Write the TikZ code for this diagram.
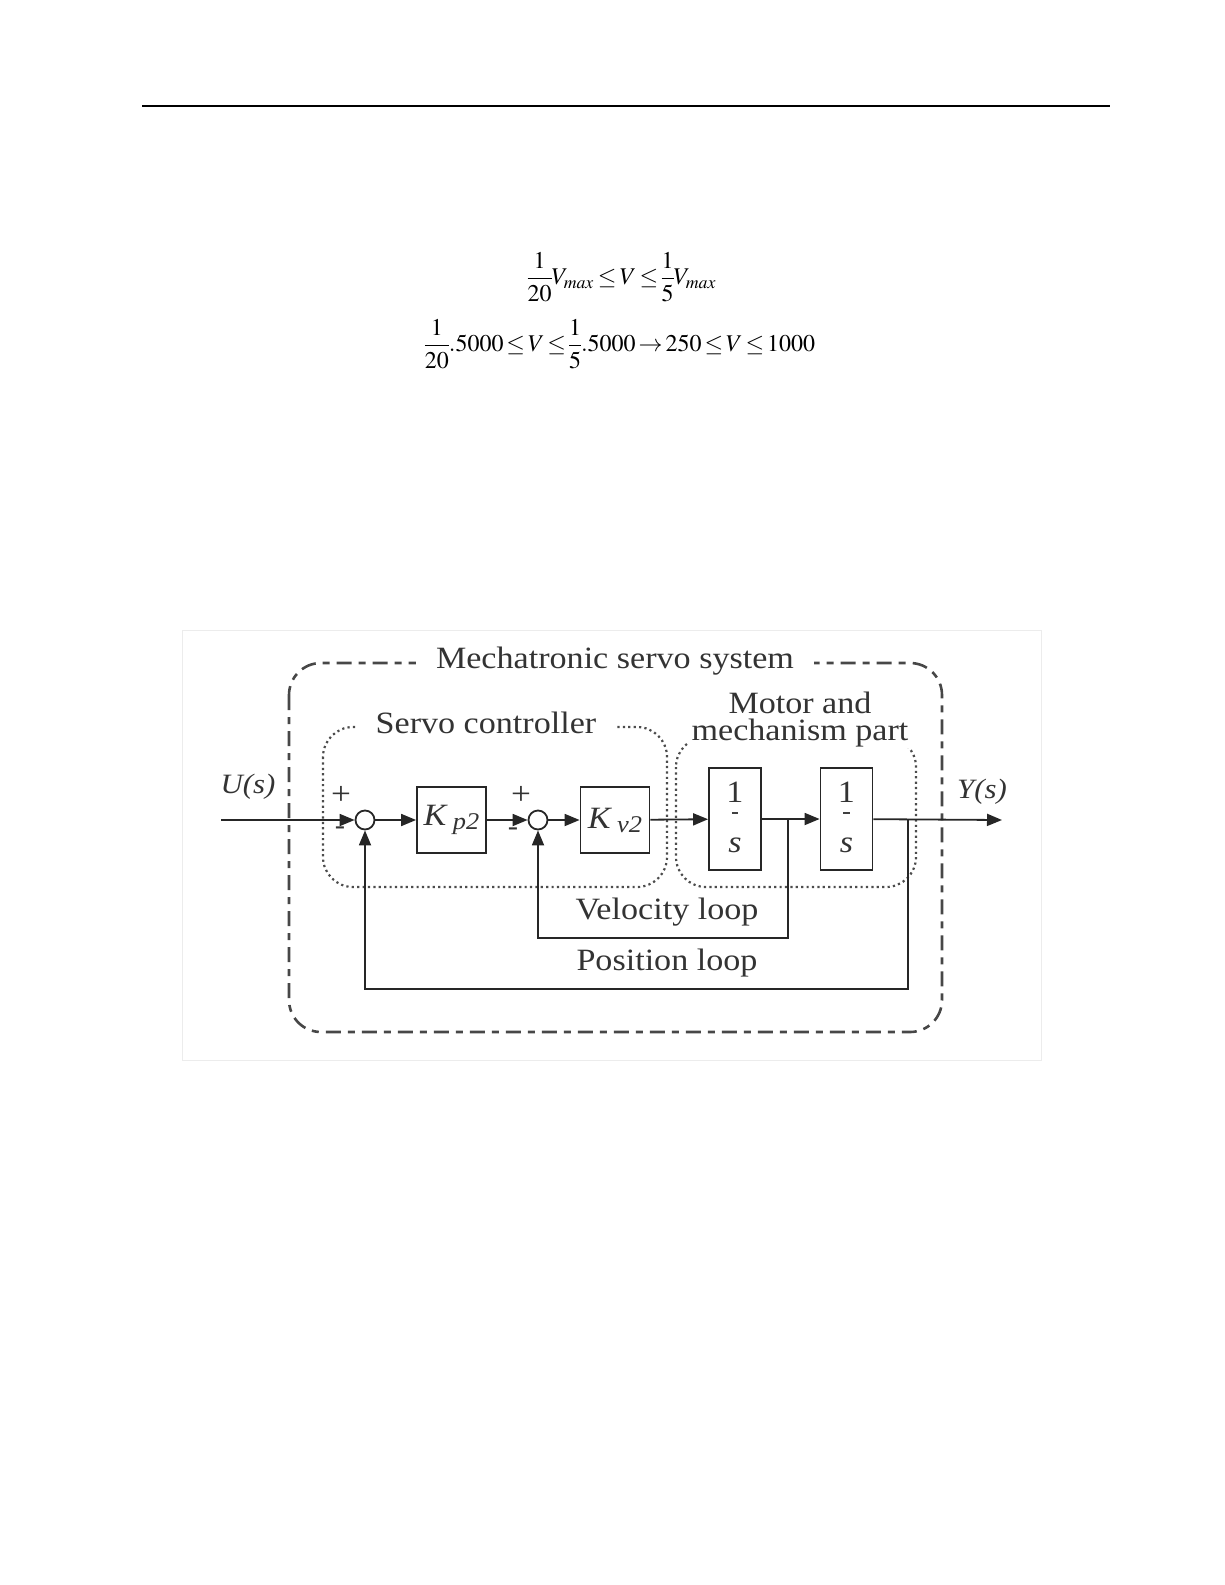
\documentclass[tikz,border=0pt]{standalone}
\usepackage{amsmath}
\usepackage{mathptmx}
\usepackage{fontspec}
\setmainfont{Liberation Serif}
\newfontfamily\diagfont[FakeStretch=1.1]{Liberation Serif}
\usetikzlibrary{arrows.meta, calc}

\begin{document}
\begin{tikzpicture}[x=0.5bp, y=-0.5bp,
    wire/.style={line width=0.9bp, black!85},
    sig/.style={wire, -{Triangle[length=7.5bp, width=6bp]}},
    blk/.style={draw=black!85, line width=0.9bp, minimum width=34.5bp,
      minimum height=33bp, inner sep=0pt, text=black!80,
      font=\diagfont\fontsize{15.5bp}{17bp}\selectfont},
    intblk/.style={blk, minimum width=26bp, minimum height=51bp},
    sumnode/.style={draw=black!85, circle, line width=0.9bp,
      minimum size=9.5bp, inner sep=0pt},
    dotbox/.style={line width=1.1bp, black!70, dash pattern=on 1.1bp off 1.6bp,
      rounded corners=15bp},
    dashbox/.style={line width=1.3bp, black!72,
      dash pattern=on 7.5bp off 3.5bp on 3.5bp off 3.5bp, rounded corners=16bp},
    lbl/.style={inner sep=0pt, text=black!80,
      font=\diagfont\fontsize{15.5bp}{13.5bp}\selectfont},
    title/.style={lbl, fill=white, inner xsep=10bp, inner ysep=1bp},
    sgn/.style={inner sep=0pt, text=black!80,
      font=\diagfont\fontsize{16bp}{18bp}\selectfont},
    eqn/.style={font=\fontsize{12bp}{15bp}\selectfont}]
  \useasboundingbox (0,0) rectangle (1225,1585);

  % header rule
  \draw[line width=0.8bp] (142,106) -- (1110,106);

  % speed range
  \node[eqn] (eqa) at (622,277)
    {$\thickmuskip=2.5mu\nulldelimiterspace=0pt\displaystyle
      \frac{1}{20}V_{max}\le V\le\frac{1}{5}V_{max}$};
  \node[eqn] (eqb) at (620,344)
    {$\thickmuskip=2.2mu\nulldelimiterspace=0pt\displaystyle
      \frac{1}{20}.5000\le V\le\frac{1}{5}.5000\rightarrow 250\le V\le 1000$};

  % frame of the figure
  \draw[gray!15, line width=0.4bp] (182,630) rectangle (1041,1060);

  % groups
  \draw[dashbox] (289,663) rectangle (942,1032);
  \node[title] (mss) at (615,661) {Mechatronic servo system};
  \draw[dotbox] (323,727) rectangle (667,887);
  \node[title] (sc) at (486,723) {Servo controller};
  \draw[dotbox] (676,737) rectangle (916,887);
  \node[title, align=center, inner xsep=2bp, inner ysep=0pt] (mm) at (800,720)
    {Motor and\\mechanism part};

  % blocks
  \coordinate (in) at (221,820);
  \node[sumnode] (s1) at (365,820) {};
  \node[blk] (kp) at (451.5,820)
    {\textit{K}\hspace{2.5bp}{\fontsize{12bp}{14bp}\selectfont\raisebox{-2bp}{\textit{p2}}}};
  \node[sumnode] (s2) at (538,820) {};
  \node[blk] (kv) at (615,820)
    {\textit{K}\hspace{2.5bp}{\fontsize{12bp}{14bp}\selectfont\raisebox{-2bp}{\textit{v2}}}};
  \node[intblk] (b1) at (735,819) {};
  \node[intblk] (b2) at (846.5,819) {};
  \coordinate (vb) at (788,820);
  \coordinate (pb) at (908,820);
  \coordinate (out) at (1002,820);

  \foreach \b in {b1,b2} {
    \node[lbl] (\b one) at ([yshift=13.5bp]\b.center) {1};
    \draw[black!75, line width=0.7bp] ([xshift=-1.6bp, yshift=3bp]\b.center)
      -- ([xshift=1.6bp, yshift=3bp]\b.center);
    \node[lbl] (\b s) at ([yshift=-13bp]\b.center) {\textit{s}};
  }

  % signs and signals
  \node[sgn] (p1) at (341,795) {+};
  \node[sgn, font=\diagfont\fontsize{14bp}{15bp}\selectfont] (m1) at (340,831) {-};
  \node[sgn] (p2) at (521,795) {+};
  \node[sgn, font=\diagfont\fontsize{14bp}{15bp}\selectfont] (m2) at (513,832) {-};
  \node[lbl, font=\diagfont\fontsize{14bp}{16bp}\selectfont] (us) at (248,787) {\textit{U(s)}};
  \node[lbl, font=\diagfont\fontsize{14bp}{16bp}\selectfont] (ys) at (982,792) {\textit{Y(s)}};

  % forward path
  \draw[sig] (in) -- (s1);
  \draw[sig] (s1) -- (kp);
  \draw[sig] (kp) -- (s2);
  \draw[sig] (s2) -- (kv);
  \draw[sig] (kv) -- (b1);
  \draw[sig] (b1) -- (b2);
  \draw[sig] (b2) -- (out);

  % loops
  \draw[sig] (vb) -- ++(0,118) -| (s2.south);
  \draw[sig] (pb) -- ++(0,169) -| (s1.south);
  \node[lbl] (vl) at (667,912) {Velocity loop};
  \node[lbl] (pl) at (667,963) {Position loop};
\end{tikzpicture}
\end{document}
